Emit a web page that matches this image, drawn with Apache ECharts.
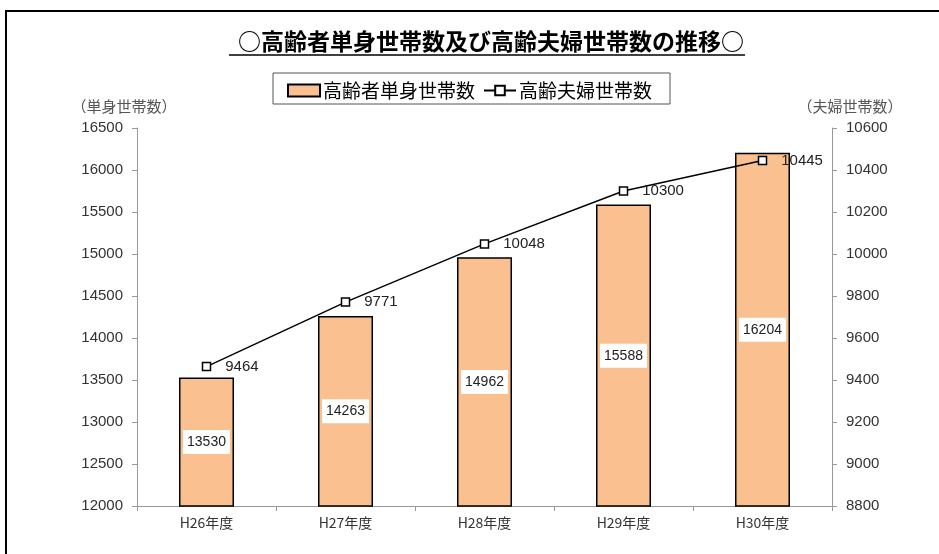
<!DOCTYPE html>
<html>
<head>
<meta charset="utf-8">
<script src="https://cdn.jsdelivr.net/npm/echarts@6/dist/echarts.min.js"></script>
<style>
  html, body { margin: 0; padding: 0; background: #fff; }
  #frame { position: absolute; left: 5px; top: 10px; width: 1000px; height: 600px;
           border: 2px solid #000; box-sizing: border-box; }
  #chart { position: absolute; left: 0; top: 0; width: 939px; height: 554px; }
</style>
</head>
<body>
<div id="frame"></div>
<div id="chart"></div>
<script>
const categories = ['H26年度', 'H27年度', 'H28年度', 'H29年度', 'H30年度'];
const singleHouseholds = [13530, 14263, 14962, 15588, 16204];
const coupleHouseholds = [9464, 9771, 10048, 10300, 10445];

const jp = '"Noto Sans CJK JP", sans-serif';
const num = '"Liberation Sans", "Noto Sans", sans-serif';
const plain = v => String(v);

const chart = echarts.init(document.getElementById('chart'));
chart.setOption({
  animation: false,
  title: {
    text: '○高齢者単身世帯数及び高齢夫婦世帯数の推移○',
    left: 233,
    top: 25,
    textStyle: { fontFamily: jp, fontSize: 23, fontWeight: 'bold', color: '#000' }
  },
  graphic: [
    { type: 'line', shape: { x1: 229, y1: 55, x2: 745, y2: 55 }, style: { stroke: '#000', lineWidth: 1.5 } },
    { type: 'rect', shape: { x: 273, y: 73, width: 397, height: 31 }, style: { fill: 'none', stroke: '#555', lineWidth: 1 } }
  ],
  legend: {
    top: 76,
    left: 282,
    itemGap: 8,
    itemWidth: 32,
    itemHeight: 12,
    textStyle: { fontFamily: jp, fontSize: 19, color: '#000', padding: [0, 0, 0, -2] },
    data: [
      { name: '高齢者単身世帯数', icon: 'rect' },
      { name: '高齢夫婦世帯数' }
    ]
  },
  grid: { left: 137, right: 107, top: 128, bottom: 48 },
  xAxis: {
    type: 'category',
    data: categories,
    axisLine: { lineStyle: { color: '#999' } },
    axisTick: { show: true, length: 5, lineStyle: { color: '#999' } },
    axisLabel: { fontFamily: jp, fontSize: 14, color: '#333', margin: 10 }
  },
  yAxis: [
    {
      type: 'value', min: 12000, max: 16500, interval: 500,
      name: '（単身世帯数）', nameGap: 14,
      nameTextStyle: { fontFamily: jp, fontSize: 15, color: '#555', align: 'center', padding: [0, 0, 0, -26] },
      axisLine: { show: true, lineStyle: { color: '#999' } },
      axisTick: { show: true, length: 5, lineStyle: { color: '#999' } },
      axisLabel: { fontFamily: num, fontSize: 15, color: '#333', margin: 14, formatter: plain },
      splitLine: { show: false }
    },
    {
      type: 'value', min: 8800, max: 10600, interval: 200,
      name: '（夫婦世帯数）', nameGap: 14,
      nameTextStyle: { fontFamily: jp, fontSize: 15, color: '#555', align: 'center', padding: [0, 0, 0, 36] },
      axisLine: { show: true, lineStyle: { color: '#999' } },
      axisTick: { show: true, length: 5, lineStyle: { color: '#999' } },
      axisLabel: { fontFamily: num, fontSize: 15, color: '#333', margin: 14, formatter: plain },
      splitLine: { show: false }
    }
  ],
  series: [
    {
      name: '高齢者単身世帯数',
      type: 'bar',
      yAxisIndex: 0,
      barWidth: 55,
      data: singleHouseholds,
      itemStyle: { color: '#FAC090', borderColor: '#000', borderWidth: 1.5 },
      label: {
        show: true, position: 'inside',
        fontFamily: num, fontSize: 14, color: '#222',
        backgroundColor: '#fff', padding: [5, 4]
      }
    },
    {
      name: '高齢夫婦世帯数',
      type: 'line',
      yAxisIndex: 1,
      data: coupleHouseholds,
      symbol: 'rect',
      symbolSize: 8,
      lineStyle: { color: '#000', width: 1.5 },
      itemStyle: { color: '#fff', borderColor: '#000', borderWidth: 1.5 },
      label: {
        show: true, position: 'right', distance: 14,
        fontFamily: num, fontSize: 15, color: '#222'
      },
      z: 5
    }
  ]
});
</script>
</body>
</html>
